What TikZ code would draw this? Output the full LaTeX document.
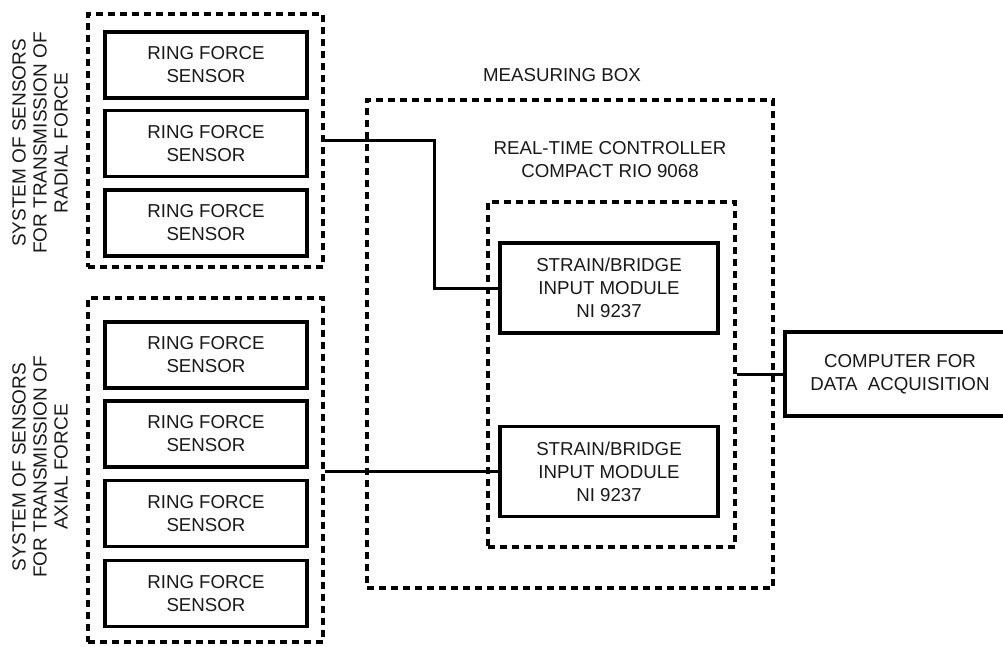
\documentclass[tikz,border=0pt]{standalone}
\usepackage{fontspec}
\setmainfont{Liberation Sans}
\begin{document}
\begin{tikzpicture}[x=1pt,y=-1pt,
  txt/.style={font=\fontsize{18.7}{23}\selectfont, align=center, text=black!90},
  solidbox/.style={txt, draw, line width=3.4pt, inner sep=0pt},
  dashbox/.style={draw, line width=3.4pt, dash pattern=on 7pt off 5pt, inner sep=0pt},
  sensor/.style={solidbox, minimum width=202pt, minimum height=66pt},
  module/.style={solidbox, minimum width=218pt, minimum height=90pt},
  wire/.style={line width=3pt}
]
\useasboundingbox (0,0) rectangle (1003,646);

% radial group
\node[dashbox, minimum width=235pt, minimum height=253pt] (radial) at (205.5,140.5) {};
\node[sensor] (r1) at (206,65) {RING FORCE\\SENSOR};
\node[sensor] (r2) at (206,143.5) {RING FORCE\\SENSOR};
\node[sensor] (r3) at (206,223) {RING FORCE\\SENSOR};
\node[txt, rotate=90, font=\fontsize{19}{21}\selectfont] (rlabel) at (40,143) {SYSTEM OF SENSORS\\FOR TRANSMISSION OF\\RADIAL FORCE};

% axial group
\node[dashbox, minimum width=235pt, minimum height=344pt] (axial) at (205.5,470) {};
\node[sensor] (a1) at (206,355) {RING FORCE\\SENSOR};
\node[sensor] (a2) at (206,434) {RING FORCE\\SENSOR};
\node[sensor] (a3) at (206,513.5) {RING FORCE\\SENSOR};
\node[sensor] (a4) at (206,593.5) {RING FORCE\\SENSOR};
\node[txt, rotate=90, font=\fontsize{19}{21}\selectfont] (alabel) at (40,467) {SYSTEM OF SENSORS\\FOR TRANSMISSION OF\\AXIAL FORCE};

% measuring box
\node[dashbox, minimum width=406pt, minimum height=488pt] (meas) at (570,344) {};
\node[txt] (measlabel) at (562,75) {MEASURING BOX};

% controller
\node[dashbox, minimum width=247pt, minimum height=345pt] (ctrl) at (611.5,374.5) {};
\node[txt] (ctrllabel) at (610,160) {REAL-TIME CONTROLLER\\COMPACT RIO 9068};

\node[module] (m1) at (609,288) {STRAIN/BRIDGE\\INPUT MODULE\\NI 9237};
\node[module] (m2) at (609,471.5) {STRAIN/BRIDGE\\INPUT MODULE\\NI 9237};

% computer
\node[solidbox, minimum width=235pt, minimum height=84pt, text width=235pt] (comp) at (902.5,374) {};
\node[txt] (comptext) at (900,374) {COMPUTER FOR\\DATA\ \ ACQUISITION};

% connectors
\draw[wire] (radial.east) -- ++(110,0) |- (m1.west);
\draw[wire] (axial.east |- m2.west) -- (m2.west);
\draw[wire] (ctrl.east |- comp.west) -- (comp.west);
\end{tikzpicture}
\end{document}
